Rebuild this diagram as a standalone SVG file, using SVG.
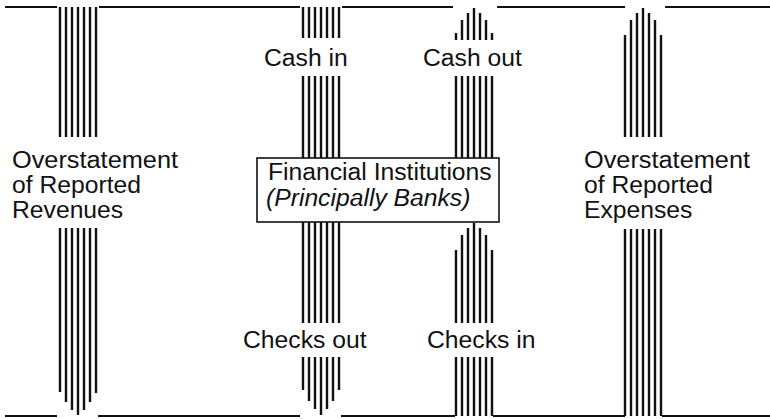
<svg xmlns="http://www.w3.org/2000/svg" width="770" height="419" viewBox="0 0 770 419">
<style>
.bg{fill:#fff}
.rule{stroke:#111;stroke-width:2.2;fill:none}
.st{stroke:#111;stroke-width:2.4;fill:none}
.t{font-family:"Liberation Sans",Arial,sans-serif;font-size:24.7px;fill:#111}
.i{font-style:italic}
.box{fill:#fff;stroke:#111;stroke-width:1.6}
</style>
<rect class="bg" x="0" y="0" width="770" height="419"/>
<g id="frame">
<path class="rule" d="M5 7H57M99 7H300M342 7H453M497 7H625M665 7H770"/>
<path class="rule" d="M5 416H57M98 416H300M341 416H455M493 416H625M662 416H770"/>
</g>
<g id="connectors">
<g id="flow-revenues">
<path class="st" d="M60 7V137M66 7V137M72 7V137M78 7V137M84 7V137M90 7V137M96 7V137"/>
<path class="st" d="M60 228V392M66 228V402M72 228V410M78 228V415M84 228V410M90 228V402M96 228V393"/>
</g>
<g id="flow-cash-in">
<path class="st" d="M303 7V38M309 7V38M315 7V38M321 7V38M327 7V38M333 7V38M339 7V38"/>
<path class="st" d="M303 76V158M309 76V158M315 76V158M321 76V158M327 76V158M333 76V158M339 76V158"/>
<text class="t" x="264" y="66">Cash in</text>
</g>
<g id="flow-checks-out">
<path class="st" d="M303 222V323M309 222V323M315 222V323M321 222V323M327 222V323M333 222V323M339 222V323"/>
<path class="st" d="M303 357V390M309 357V401M315 357V409M321 357V415M327 357V409M333 357V401M339 357V390"/>
<text class="t" x="243" y="348">Checks out</text>
</g>
<g id="flow-cash-out">
<path class="st" d="M456 33V40M462 20V40M468 13V40M474 8V40M480 13V40M486 20V40M492 33V40"/>
<path class="st" d="M456 76V158M462 76V158M468 76V158M474 76V158M480 76V158M486 76V158M492 76V158"/>
<text class="t" x="423" y="66">Cash out</text>
</g>
<g id="flow-checks-in">
<path class="st" d="M456 250V323M462 235V323M468 228V323M474 223V323M480 228V323M486 235V323M492 250V323"/>
<path class="st" d="M456 357V416M462 357V416M468 357V416M474 357V416M480 357V416M486 357V416M492 357V416"/>
<text class="t" x="427" y="348">Checks in</text>
</g>
<g id="flow-expenses">
<path class="st" d="M625 35V137M631 20V137M637 13V137M643 8V137M649 13V137M655 20V137M661 35V137"/>
<path class="st" d="M625 229V416M631 229V416M637 229V416M643 229V416M649 229V416M655 229V416M661 229V416"/>
</g>
</g>
<g id="node-revenues">
<text class="t" x="12" y="168" textLength="166" lengthAdjust="spacingAndGlyphs">Overstatement</text>
<text class="t" x="12" y="193">of Reported</text>
<text class="t" x="12" y="218">Revenues</text>
</g>
<g id="node-banks">
<rect class="box" x="257" y="158" width="242" height="64"/>
<text class="t" x="268" y="180">Financial Institutions</text>
<text class="t i" x="266" y="206">(Principally Banks)</text>
</g>
<g id="node-expenses">
<text class="t" x="584" y="168" textLength="166" lengthAdjust="spacingAndGlyphs">Overstatement</text>
<text class="t" x="584" y="193">of Reported</text>
<text class="t" x="584" y="218">Expenses</text>
</g>
</svg>
